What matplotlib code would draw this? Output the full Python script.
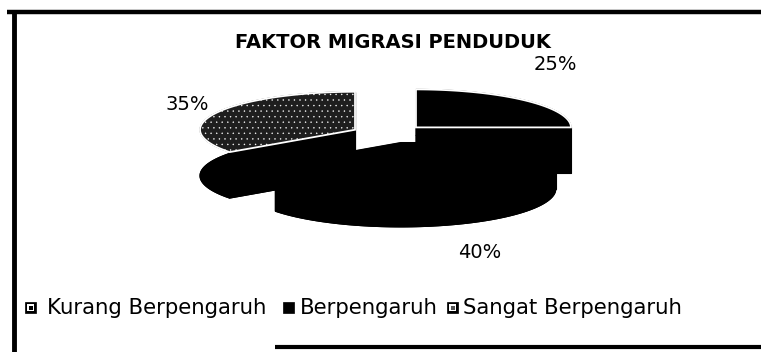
import numpy as np
import matplotlib.pyplot as plt
from matplotlib.patches import Polygon, Rectangle

# Data
categories = ["Kurang Berpengaruh", "Berpengaruh", "Sangat Berpengaruh"]
values = [25, 40, 35]
title = "FAKTOR MIGRASI PENDUDUK"

# Geometry of the 3D pie (pixel space, y grows downward)
CX, CY = 389, 134
RX, RY = 155, 38
DEPTH = 46
EXPLODE = 0.246
START = 90

# Top face style for each slice: (face, edge, hatch)
face_style = [("black", "white", None),
              ("black", "black", None),
              ("#1e1e1e", "white", "...")]
label_pos = [(555, 65), (480, 252), (187, 104)]

plt.rcParams['hatch.linewidth'] = 0.25

fig = plt.figure(figsize=(7.61, 3.52), dpi=100)
ax = fig.add_axes([0, 0, 1, 1])
ax.set_xlim(0, 761)
ax.set_ylim(352, 0)
ax.axis('off')


def arc(cx, cy, t0, t1, n=90):
    t = np.radians(np.linspace(t0, t1, n))
    return np.column_stack([cx + RX * np.cos(t), cy - RY * np.sin(t)])


total = float(sum(values))
cum = 0.0
for i, v in enumerate(values):
    t_hi = START - cum / total * 360
    t_lo = t_hi - v / total * 360
    cum += v
    mid = np.radians((t_lo + t_hi) / 2)
    cx = CX + EXPLODE * RX * np.cos(mid)
    cy = CY - EXPLODE * RY * np.sin(mid)
    z = cy

    pts = arc(cx, cy, t_lo, t_hi)
    apex = np.array([[cx, cy]])
    down = np.array([0, DEPTH])
    top = np.vstack([apex, pts])

    # solid body: bottom face, curved wall, both radial walls
    body = [top + down,
            np.vstack([pts, (pts + down)[::-1]]),
            np.vstack([apex, pts[:1], pts[:1] + down, apex + down]),
            np.vstack([apex, pts[-1:], pts[-1:] + down, apex + down])]
    for b in body:
        ax.add_patch(Polygon(b, closed=True, fc="black", ec="black",
                             lw=0.8, zorder=z))

    fc, ec, hatch = face_style[i]
    ax.add_patch(Polygon(top, closed=True, fc=fc, ec=ec, lw=1.3,
                         hatch=hatch, zorder=z + 0.5))

    lx, ly = label_pos[i]
    ax.text(lx, ly, f"{v}%", fontsize=14, ha="center", va="center",
            zorder=20)

ax.text(393, 42, title, fontsize=14, fontweight="bold", ha="center",
        va="center")

# Legend drawn by hand along the bottom
marker_x = [25, 283, 447]
text_x = [47, 300, 463]
LY = 308
for i, name in enumerate(categories):
    mx = marker_x[i]
    ax.add_patch(Rectangle((mx, LY - 6), 11, 11, fc="black", ec="black",
                           lw=0.5))
    if i != 1:
        ax.add_patch(Rectangle((mx + 2, LY - 4), 7, 7, fc="white",
                               ec="none"))
        inner = "black" if i == 0 else "#555555"
        ax.add_patch(Rectangle((mx + 3.5, LY - 2.5), 4, 4, fc=inner,
                               ec="none"))
    ax.text(text_x[i], LY, name, fontsize=15.3, ha="left", va="center")

# Frame lines
ax.plot([7, 761], [12, 12], color="black", lw=3.2, solid_capstyle="butt")
ax.plot([14, 14], [10, 352], color="black", lw=3.5, solid_capstyle="butt")
ax.plot([275, 761], [347, 347], color="black", lw=3, solid_capstyle="butt")

fig.savefig("out.png", dpi=100)
